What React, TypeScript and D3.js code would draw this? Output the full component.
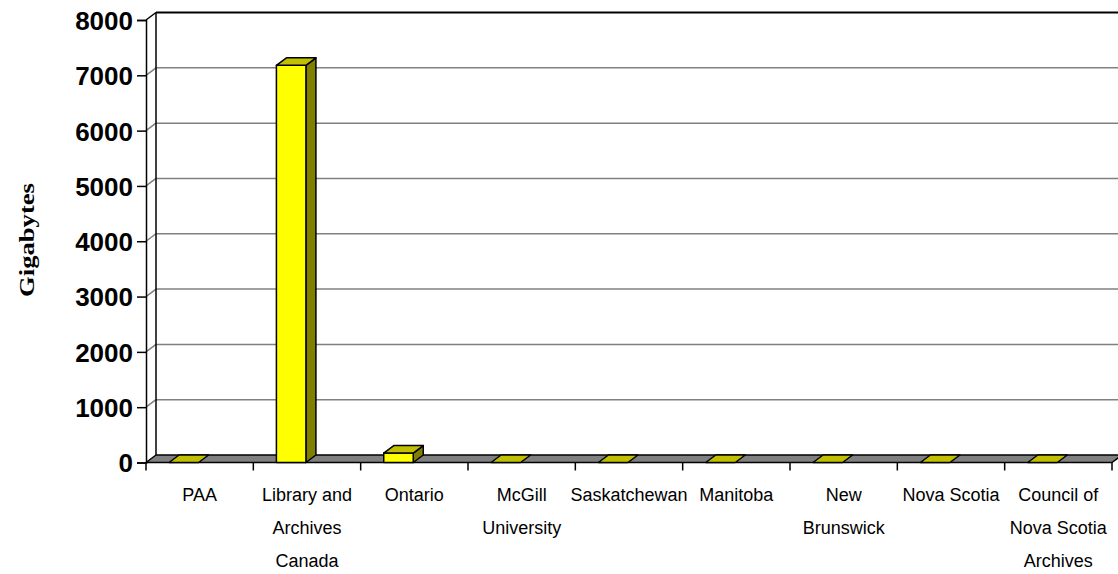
import { useEffect, useRef } from 'react';
import * as d3 from 'd3';

const categories = [
  'PAA',
  'Library and Archives Canada',
  'Ontario',
  'McGill University',
  'Saskatchewan',
  'Manitoba',
  'New Brunswick',
  'Nova Scotia',
  'Council of Nova Scotia Archives',
];

const categoryLines = [
  ['PAA'],
  ['Library and', 'Archives', 'Canada'],
  ['Ontario'],
  ['McGill', 'University'],
  ['Saskatchewan'],
  ['Manitoba'],
  ['New', 'Brunswick'],
  ['Nova Scotia'],
  ['Council of', 'Nova Scotia', 'Archives'],
];

const gigabytes = [0, 7180, 170, 0, 0, 0, 0, 0, 0];

const yTicks = [0, 1000, 2000, 3000, 4000, 5000, 6000, 7000, 8000];

const WIDTH = 1118;
const HEIGHT = 574;
const DX = 10;
const DY = -7.5;

export default function App() {
  const svgRef = useRef<SVGSVGElement | null>(null);

  useEffect(() => {
    const svgElement = svgRef.current;
    if (!svgElement) {
      return;
    }
    const svg = d3.select(svgElement);
    svg.selectAll('*').remove();

    const left = 146;
    const right = 1112;
    const y = d3.scaleLinear().domain([0, 8000]).range([462.5, 20]);
    const x = d3.scaleBand<string>().domain(categories).range([left, right]).paddingInner(0).paddingOuter(0);
    const bw = x.bandwidth();
    const y0 = y(0);
    const top = y(8000);

    // back wall gridlines + side wall diagonals
    const grid = svg.append('g');
    yTicks.slice(1, -1).forEach((t) => {
      grid
        .append('line')
        .attr('x1', left + DX)
        .attr('x2', WIDTH + 20)
        .attr('y1', y(t) + DY)
        .attr('y2', y(t) + DY)
        .attr('stroke', '#808080')
        .attr('stroke-width', 1.5);
      grid
        .append('line')
        .attr('x1', left)
        .attr('x2', left + DX)
        .attr('y1', y(t))
        .attr('y2', y(t) + DY)
        .attr('stroke', '#808080')
        .attr('stroke-width', 1.5);
    });

    // wall frame
    const frame = svg.append('g').attr('stroke', '#000').attr('fill', 'none').attr('stroke-width', 1.5);
    frame
      .append('line')
      .attr('x1', left + DX)
      .attr('x2', WIDTH + 20)
      .attr('y1', top + DY)
      .attr('y2', top + DY)
      .attr('stroke-width', 2);
    frame.append('line').attr('x1', left + DX).attr('x2', left + DX).attr('y1', top + DY).attr('y2', y0 + DY);
    frame.append('line').attr('x1', left).attr('x2', left + DX).attr('y1', top).attr('y2', top + DY);

    // floor
    const floorPath = d3.path();
    floorPath.moveTo(left, y0);
    floorPath.lineTo(left + DX, y0 + DY);
    floorPath.lineTo(right + DX, y0 + DY);
    floorPath.lineTo(right, y0);
    floorPath.closePath();
    svg
      .append('path')
      .attr('d', floorPath.toString())
      .attr('fill', '#808080')
      .attr('stroke', '#000')
      .attr('stroke-width', 1.5)
      .attr('stroke-linejoin', 'round');

    // bars
    const bars = svg.append('g').attr('stroke', '#000').attr('stroke-width', 1.5).attr('stroke-linejoin', 'round');
    categories.forEach((c, i) => {
      const v = gigabytes[i];
      const bx = (x(c) ?? 0) + bw * 0.215;
      const w = bw * 0.275;
      const yt = y(v);
      if (v > 0) {
        bars
          .append('path')
          .attr('d', `M${bx + w},${yt}L${bx + w + DX},${yt + DY}L${bx + w + DX},${y0 + DY}L${bx + w},${y0}Z`)
          .attr('fill', '#808000');
        bars
          .append('rect')
          .attr('x', bx)
          .attr('y', yt)
          .attr('width', w)
          .attr('height', y0 - yt)
          .attr('fill', '#ffff00');
      }
      bars
        .append('path')
        .attr('d', `M${bx},${yt}L${bx + DX},${yt + DY}L${bx + w + DX},${yt + DY}L${bx + w},${yt}Z`)
        .attr('fill', '#c0c000');
    });

    // y axis
    const yAxis = d3
      .axisLeft(y)
      .tickValues(yTicks)
      .tickSize(9)
      .tickPadding(4)
      .tickFormat((d: d3.NumberValue) => `${d}`);
    const yg = svg.append('g').attr('transform', `translate(${left},0)`).call(yAxis);
    yg.select('.domain').attr('stroke', '#000').attr('stroke-width', 1.5);
    yg.selectAll('line').attr('stroke', '#000').attr('stroke-width', 1.5);
    yg.selectAll('text')
      .attr('fill', '#000')
      .attr('font-family', 'Arial, "Liberation Sans", sans-serif')
      .attr('font-weight', 'bold')
      .attr('font-size', 26)
      .attr('dy', '0.36em');

    // x axis ticks
    const xg = svg.append('g');
    const bounds = [...categories.map((c) => x(c) ?? 0), right];
    bounds.forEach((bx) => {
      xg.append('line')
        .attr('x1', bx)
        .attr('x2', bx)
        .attr('y1', y0)
        .attr('y2', y0 + 8)
        .attr('stroke', '#000')
        .attr('stroke-width', 1.5);
    });

    // category labels
    categories.forEach((c, i) => {
      const cx = (x(c) ?? 0) + bw / 2;
      const text = xg
        .append('text')
        .attr('x', cx)
        .attr('y', 501)
        .attr('text-anchor', 'middle')
        .attr('font-family', 'Arial, "Liberation Sans", sans-serif')
        .attr('font-size', 18)
        .attr('fill', '#000');
      categoryLines[i].forEach((line, j) => {
        text
          .append('tspan')
          .attr('x', cx)
          .attr('y', 501 + j * 33)
          .text(line);
      });
    });

    // y label
    svg
      .append('text')
      .attr('transform', `translate(34,240) rotate(-90)`)
      .attr('text-anchor', 'middle')
      .attr('font-family', '"Times New Roman", "Liberation Serif", serif')
      .attr('font-weight', 'bold')
      .attr('font-size', 20)
      .attr('textLength', 114)
      .attr('lengthAdjust', 'spacingAndGlyphs')
      .attr('fill', '#000')
      .text('Gigabytes');
  }, []);

  return (
    <svg
      ref={svgRef}
      width={WIDTH}
      height={HEIGHT}
      viewBox={`0 0 ${WIDTH} ${HEIGHT}`}
      style={{ position: 'absolute', left: 0, top: 0, background: '#fff' }}
    />
  );
}
